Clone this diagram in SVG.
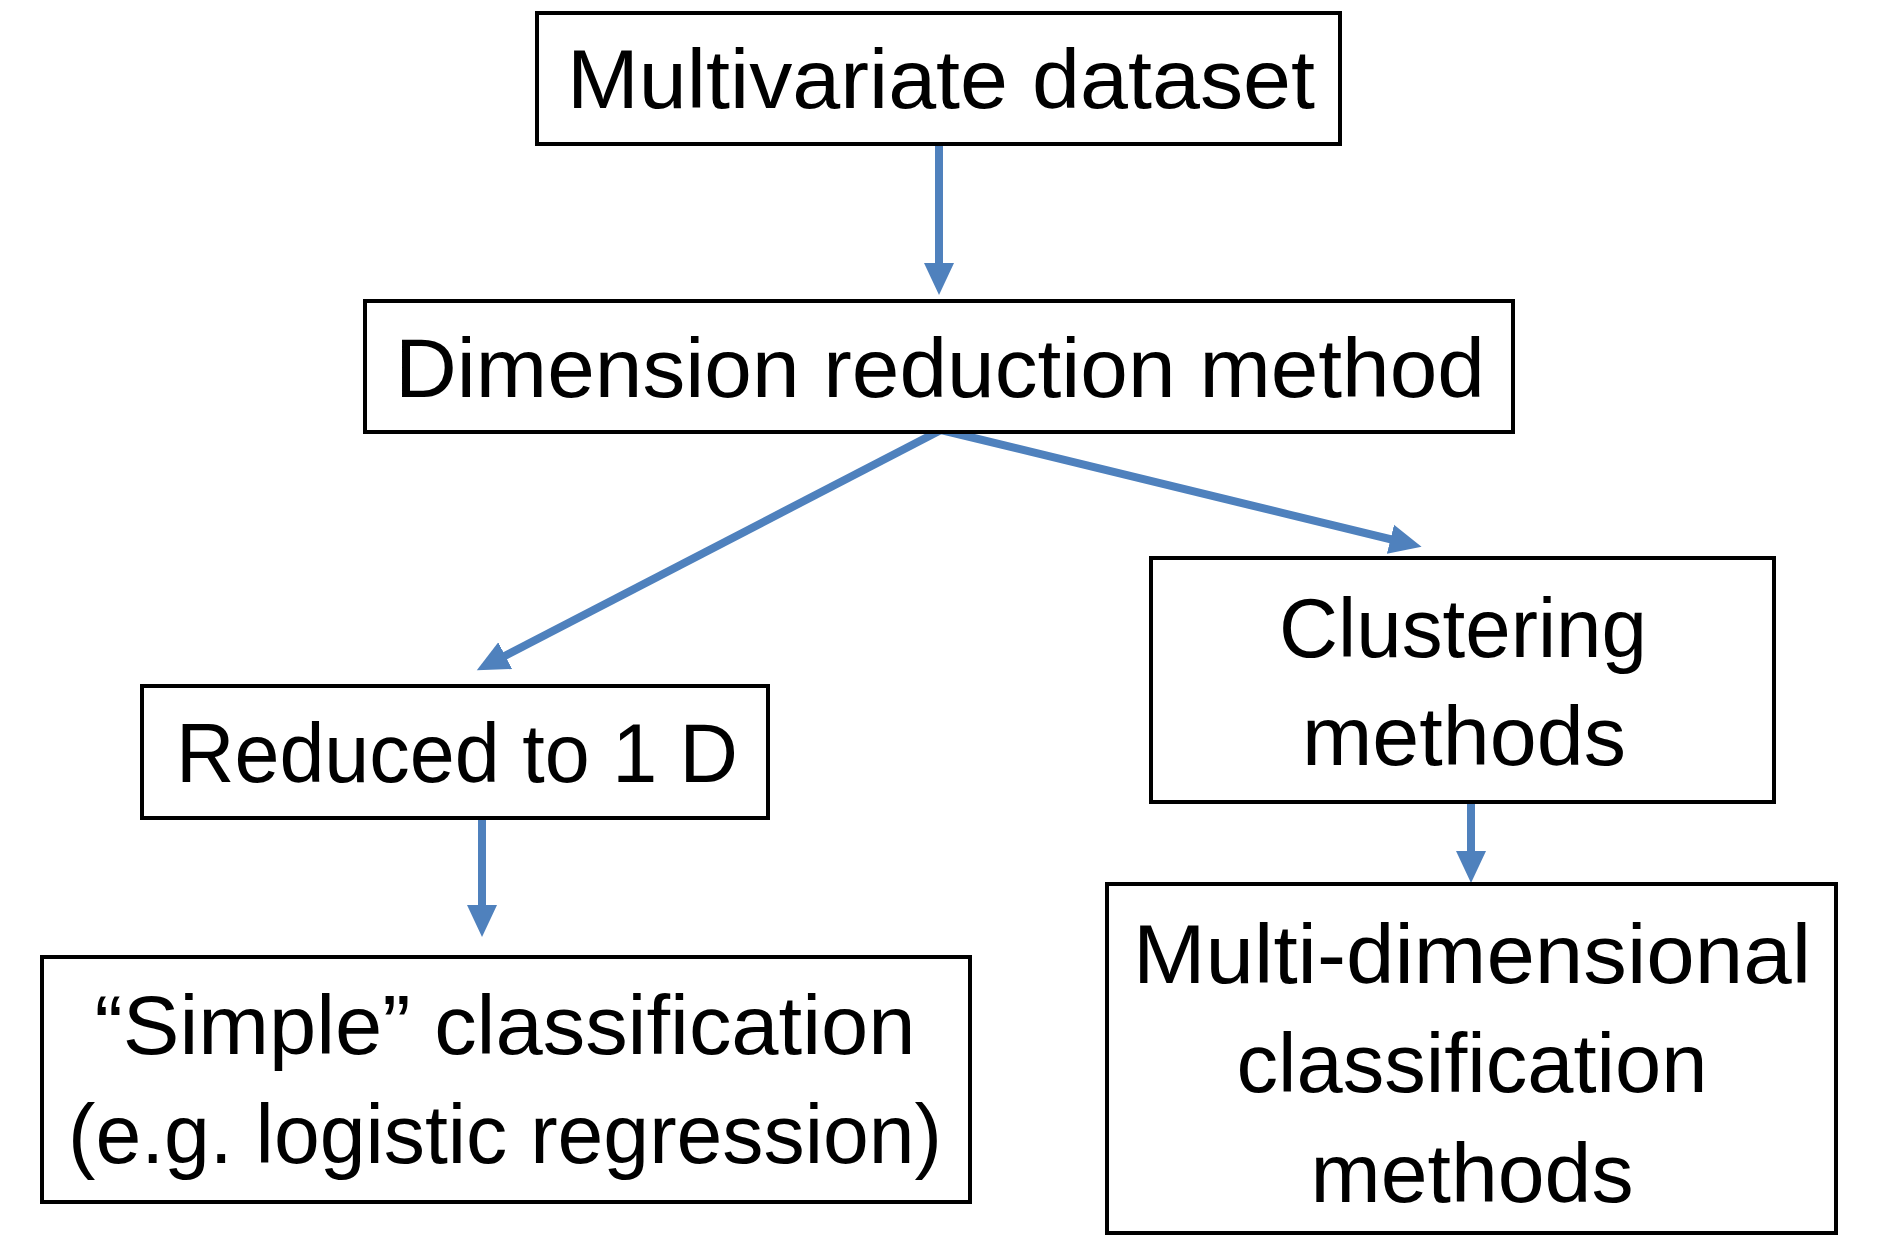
<svg xmlns="http://www.w3.org/2000/svg" width="1893" height="1237" viewBox="0 0 1893 1237">
<style>
.box{fill:#fff;stroke:#000;stroke-width:4}
.t{font-family:"Liberation Sans",Arial,sans-serif;font-size:83px;fill:#000;text-anchor:middle}
.c{fill:none;stroke:#4F81BD;stroke-width:8}
</style>
<defs>
<marker id="ah" markerUnits="userSpaceOnUse" markerWidth="34" markerHeight="34" viewBox="0 0 34 34" refX="16" refY="16" orient="auto">
<path d="M0,1 L32,16 L0,31 z" fill="#4F81BD"/>
</marker>
</defs>
<rect width="1893" height="1237" fill="#fff"/>
<g id="connectors">
<line class="c" x1="939" y1="145" x2="939" y2="279" marker-end="url(#ah)"/>
<line class="c" x1="941" y1="430" x2="491" y2="663" marker-end="url(#ah)"/>
<line class="c" x1="941" y1="430" x2="1406" y2="543" marker-end="url(#ah)"/>
<line class="c" x1="482" y1="819" x2="482" y2="921" marker-end="url(#ah)"/>
<line class="c" x1="1471" y1="802" x2="1471" y2="867" marker-end="url(#ah)"/>
</g>
<g id="multivariate">
<rect class="box" x="537" y="13" width="803" height="131"/>
<text class="t" x="941" y="108" textLength="748" lengthAdjust="spacingAndGlyphs">Multivariate dataset</text>
</g>
<g id="dimension">
<rect class="box" x="365" y="301" width="1148" height="131"/>
<text class="t" x="940" y="397" textLength="1090" lengthAdjust="spacingAndGlyphs">Dimension reduction method</text>
</g>
<g id="reduced">
<rect class="box" x="142" y="686" width="626" height="132"/>
<text class="t" x="457" y="782" textLength="562" lengthAdjust="spacingAndGlyphs">Reduced to 1 D</text>
</g>
<g id="clustering">
<rect class="box" x="1151" y="558" width="623" height="244"/>
<text class="t" x="1463" y="657" textLength="368" lengthAdjust="spacingAndGlyphs">Clustering</text>
<text class="t" x="1464" y="765" textLength="324" lengthAdjust="spacingAndGlyphs">methods</text>
</g>
<g id="simple">
<rect class="box" x="42" y="957" width="928" height="245"/>
<text class="t" x="505" y="1054" textLength="821" lengthAdjust="spacingAndGlyphs">“Simple” classification</text>
<text class="t" x="505" y="1163" textLength="874" lengthAdjust="spacingAndGlyphs">(e.g. logistic regression)</text>
</g>
<g id="multidim">
<rect class="box" x="1107" y="884" width="729" height="349"/>
<text class="t" x="1472" y="983" textLength="678" lengthAdjust="spacingAndGlyphs">Multi-dimensional</text>
<text class="t" x="1472" y="1092" textLength="471" lengthAdjust="spacingAndGlyphs">classification</text>
<text class="t" x="1472" y="1202" textLength="323" lengthAdjust="spacingAndGlyphs">methods</text>
</g>
</svg>
